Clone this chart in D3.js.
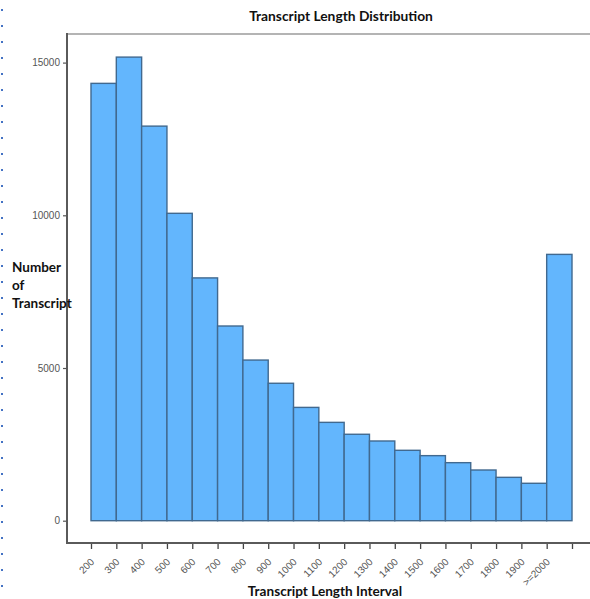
<!DOCTYPE html>
<html>
<head>
<meta charset="utf-8">
<script src="https://cdn.jsdelivr.net/npm/d3@7/dist/d3.min.js"></script>
<style>
  html, body { margin: 0; padding: 0; background: #fff; }
  svg { display: block; }
</style>
</head>
<body>
<svg id="chart" width="590" height="599"></svg>
<script>
// Transcript counts per length interval
const intervals = ["200","300","400","500","600","700","800","900","1000","1100",
                   "1200","1300","1400","1500","1600","1700","1800","1900",">=2000"];
const counts = [14320, 15180, 12920, 10065, 7950, 6375, 5260, 4500, 3710, 3220,
                2830, 2610, 2305, 2130, 1900, 1660, 1420, 1225, 8720];
const yTicks = [0, 5000, 10000, 15000];

const svg = d3.select("#chart");

// Decorative dotted margin on the left
svg.append("g").selectAll("rect")
  .data(d3.range(10, 590, 16))
  .join("rect")
  .attr("x", 1).attr("y", d => d - 1)
  .attr("width", 2).attr("height", 2)
  .attr("fill", "#4472c4");

const frame = { left: 67, top: 34, bottom: 543, right: 590 };

const x = d3.scaleLinear().domain([0, intervals.length]).range([91, 572]);
const y = d3.scaleLinear().domain([0, 15000]).range([520.7, 62.6]);

// Top rule of the plot frame
svg.append("line")
  .attr("x1", frame.left).attr("x2", frame.right)
  .attr("y1", frame.top).attr("y2", frame.top)
  .attr("stroke", "#b4b4b4").attr("stroke-width", 2);

// Bars
svg.append("g").selectAll("rect")
  .data(counts)
  .join("rect")
  .attr("x", (d, i) => x(i))
  .attr("width", (d, i) => x(i + 1) - x(i))
  .attr("y", d => y(d))
  .attr("height", d => y(0) - y(d))
  .attr("fill", "#63b6fd")
  .attr("stroke", "#41698f")
  .attr("stroke-width", 1.4);

// Y axis
const yAxis = svg.append("g")
  .attr("transform", `translate(${frame.left},0)`)
  .call(d3.axisLeft(y).tickValues(yTicks).tickSize(4).tickPadding(3).tickFormat(d3.format("d")));
yAxis.select(".domain").remove();
yAxis.selectAll(".tick line").attr("stroke", "#555").attr("stroke-width", 1.2);
yAxis.selectAll(".tick text")
  .attr("fill", "#555")
  .style("font-family", "'Liberation Sans', Arial, sans-serif")
  .style("font-size", "10px");

svg.append("line")
  .attr("x1", frame.left).attr("x2", frame.left)
  .attr("y1", frame.top - 1).attr("y2", frame.bottom + 1)
  .attr("stroke", "#5a5a5a").attr("stroke-width", 2);

// X axis: ticks at interval boundaries, labels on the left edge of each bar
const xAxis = svg.append("g")
  .attr("transform", `translate(0,${frame.bottom})`)
  .call(d3.axisBottom(x).tickValues(d3.range(intervals.length + 1))
    .tickSize(6).tickFormat(i => intervals[i] || ""));
xAxis.select(".domain").remove();
xAxis.selectAll(".tick line").attr("stroke", "#444").attr("stroke-width", 1.3);
xAxis.selectAll(".tick text")
  .attr("fill", "#555")
  .style("font-family", "'Liberation Sans', Arial, sans-serif")
  .style("font-size", "10px")
  .attr("text-anchor", "end")
  .attr("dy", "0.35em")
  .attr("transform", "translate(1,17) rotate(-45)")
  .attr("x", 0).attr("y", 0);

svg.append("line")
  .attr("x1", frame.left - 1).attr("x2", frame.right)
  .attr("y1", frame.bottom).attr("y2", frame.bottom)
  .attr("stroke", "#5a5a5a").attr("stroke-width", 2);

// Titles
const bold = "Lato, 'Open Sans', sans-serif";
svg.append("text")
  .attr("x", 341).attr("y", 21)
  .attr("text-anchor", "middle")
  .style("font-family", bold).style("font-weight", "bold").style("font-size", "13.8px")
  .attr("fill", "#111")
  .text("Transcript Length Distribution");

svg.append("text")
  .attr("x", 325).attr("y", 596)
  .attr("text-anchor", "middle")
  .style("font-family", bold).style("font-weight", "bold").style("font-size", "13.6px")
  .attr("fill", "#111")
  .text("Transcript Length Interval");

svg.append("text")
  .attr("x", 12).attr("y", 272)
  .style("font-family", bold).style("font-weight", "bold").style("font-size", "13.5px")
  .attr("fill", "#111")
  .selectAll("tspan")
  .data(["Number", "of", "Transcript"])
  .join("tspan")
  .attr("x", 12)
  .attr("dy", (d, i) => i === 0 ? 0 : 18)
  .text(d => d);
</script>
</body>
</html>
